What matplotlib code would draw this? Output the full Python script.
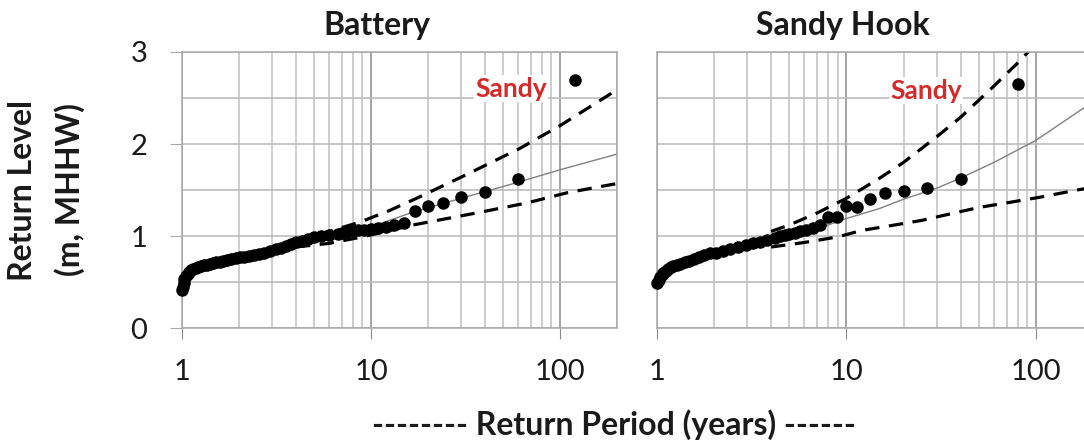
import matplotlib
matplotlib.use("Agg")
import matplotlib.pyplot as plt
from matplotlib.ticker import LogLocator, FuncFormatter, NullFormatter

plt.rcParams['font.family'] = ['Lato', 'DejaVu Sans']

# ---- Battery: observed return levels (m, MHHW) vs return period (years)
bat_period = [1.00, 1.01, 1.02, 1.03, 1.05, 1.07, 1.09, 1.12, 1.15, 1.18,
              1.22, 1.26, 1.30, 1.35, 1.40, 1.46, 1.52, 1.58, 1.65, 1.74,
              1.82, 1.92, 2.03, 2.14, 2.26, 2.40, 2.55, 2.73, 2.93, 3.16,
              3.33, 3.53, 3.75, 4.00, 4.29, 4.62, 5.00, 5.45, 6.00, 6.67,
              7.06, 7.50, 8.00, 8.57, 9.23, 10.0, 10.9,
              12.0, 13.3, 15.0, 17.1, 20.0, 24.0, 30.0, 40.0, 60.0, 120.0]
bat_level = [0.41, 0.45, 0.49, 0.53, 0.56, 0.59, 0.61, 0.63, 0.64, 0.65,
             0.66, 0.67, 0.68, 0.69, 0.70, 0.71, 0.72, 0.72, 0.73, 0.74,
             0.75, 0.76, 0.77, 0.77, 0.78, 0.79, 0.80, 0.82, 0.84, 0.86,
             0.87, 0.89, 0.91, 0.93, 0.95, 0.97, 0.99, 1.00, 1.01, 1.02,
             1.03, 1.04, 1.05, 1.06, 1.07, 1.08, 1.09,
             1.10, 1.12, 1.14, 1.27, 1.33, 1.36, 1.42, 1.48, 1.62, 2.70]

# Battery fitted curve and confidence bounds
bat_fit_T = [4, 6, 10, 16.7, 30, 59, 100, 200]
bat_fit = [0.95, 1.00, 1.10, 1.26, 1.41, 1.58, 1.72, 1.89]
bat_up_T = [4, 6, 8.7, 12.3, 17, 30, 61, 100, 180, 200]
bat_up = [0.95, 1.05, 1.15, 1.27, 1.40, 1.64, 1.95, 2.20, 2.53, 2.59]
bat_lo_T = [4, 6, 9, 16.7, 36, 67, 109, 166, 200]
bat_lo = [0.88, 0.92, 0.99, 1.12, 1.25, 1.36, 1.47, 1.54, 1.57]

# ---- Sandy Hook
sh_period = [1.00, 1.02, 1.04, 1.06, 1.08, 1.11, 1.14, 1.18, 1.22, 1.27,
             1.33, 1.40, 1.48, 1.57, 1.67, 1.78, 1.90, 2.05, 2.22, 2.42,
             2.67, 2.96, 3.20, 3.48, 3.81, 4.21, 4.44, 4.71, 5.00, 5.33,
             5.71, 6.15, 6.67, 7.27,
             8.00, 8.89, 10.0, 11.4, 13.3, 16.0, 20.0, 26.7, 40.0, 80.0]
sh_level = [0.49, 0.52, 0.55, 0.58, 0.60, 0.62, 0.64, 0.66, 0.67, 0.69,
            0.70, 0.72, 0.73, 0.75, 0.77, 0.79, 0.81, 0.82, 0.84, 0.86,
            0.88, 0.90, 0.92, 0.94, 0.96, 0.98, 1.00, 1.01, 1.02, 1.03,
            1.05, 1.07, 1.09, 1.12,
            1.21, 1.21, 1.33, 1.32, 1.40, 1.47, 1.49, 1.52, 1.62, 2.65]

sh_fit_T = [3, 5, 8, 10, 15, 20, 30, 40, 60, 100, 200]
sh_fit = [0.90, 1.02, 1.12, 1.19, 1.30, 1.40, 1.52, 1.63, 1.80, 2.04, 2.46]
sh_up_T = [4, 5, 7, 10, 15, 20, 30, 40, 60, 80, 100]
sh_up = [1.05, 1.12, 1.25, 1.41, 1.63, 1.80, 2.08, 2.29, 2.63, 2.88, 3.09]
sh_lo_T = [4, 6, 9, 12, 18, 25, 37, 50, 70, 104, 165, 200]
sh_lo = [0.88, 0.93, 0.99, 1.06, 1.12, 1.17, 1.25, 1.31, 1.36, 1.42, 1.50, 1.53]

W, H = 1084, 440
fig = plt.figure(figsize=(W / 100, H / 100), dpi=100)

def px_axes(left, right, top, bottom):
    return fig.add_axes([left / W, 1 - bottom / H, (right - left) / W, (bottom - top) / H])

def style_axes(ax, show_y):
    ax.set_xscale('log')
    ax.set_xlim(1, 200)
    ax.set_ylim(0, 3)
    ax.xaxis.set_major_locator(LogLocator(base=10))
    ax.xaxis.set_minor_locator(LogLocator(base=10, subs=range(2, 10)))
    ax.xaxis.set_major_formatter(FuncFormatter(lambda v, p: f'{v:g}'))
    ax.xaxis.set_minor_formatter(NullFormatter())
    ax.set_yticks([0, 1, 2, 3])
    ax.set_yticks([0.5, 1.5, 2.5], minor=True)
    ax.grid(axis='x', which='major', color='#8c8c8c', lw=1.1)
    ax.grid(axis='x', which='minor', color='#c0c0c0', lw=1.1)
    ax.grid(axis='y', which='both', color='#b8b8b8', lw=1.1)
    ax.set_axisbelow(True)
    for s in ax.spines.values():
        s.set_color('#a8a8a8')
        s.set_linewidth(1.1)
    ax.tick_params(axis='x', which='major', length=8, color='#8c8c8c',
                   pad=14, labelsize=21, labelcolor='#1a1a1a')
    ax.tick_params(which='minor', length=0)
    if show_y:
        ax.tick_params(axis='y', which='major', length=9, color='#a8a8a8',
                       pad=16, labelsize=21, labelcolor='#1a1a1a')
    else:
        ax.tick_params(axis='y', which='major', length=0, labelleft=False)

def draw(ax, T, lev, fT, f, uT, u, lT, l):
    ax.plot(fT, f, color='#808080', lw=1, zorder=2)
    ax.plot(uT, u, color='black', lw=2.3, dashes=(4.5, 3), zorder=2)
    ax.plot(lT, l, color='black', lw=2.3, dashes=(4.5, 3), zorder=2)
    ax.plot(T, lev, 'o', color='black', ms=8, zorder=3, clip_on=False)

ax1 = px_axes(182, 617, 52, 328)
style_axes(ax1, True)
draw(ax1, bat_period, bat_level, bat_fit_T, bat_fit, bat_up_T, bat_up, bat_lo_T, bat_lo)
ax1.text(55, 2.60, 'Sandy', color='#d42a2a', fontsize=19, fontweight='bold',
         ha='center', va='center', zorder=4,
         bbox=dict(facecolor='white', edgecolor='none', pad=1))

ax2 = px_axes(657, 1093, 52, 328)
style_axes(ax2, False)
draw(ax2, sh_period, sh_level, sh_fit_T, sh_fit, sh_up_T, sh_up, sh_lo_T, sh_lo)
ax2.text(26.3, 2.58, 'Sandy', color='#d42a2a', fontsize=19, fontweight='bold',
         ha='center', va='center', zorder=4,
         bbox=dict(facecolor='white', edgecolor='none', pad=1))

fig.text(377 / W, 1 - 35 / H, 'Battery', ha='center', va='baseline',
         fontsize=23, fontweight='bold', color='#1a1a1a')
fig.text(843 / W, 1 - 35 / H, 'Sandy Hook', ha='center', va='baseline',
         fontsize=23, fontweight='bold', color='#1a1a1a')

fig.text(23 / W, 1 - 190 / H, 'Return Level', rotation=90, ha='center',
         va='center', fontsize=23, fontweight='bold', color='#1a1a1a')
fig.text(70 / W, 1 - 190 / H, '(m, MHHW)', rotation=90, ha='center',
         va='center', fontsize=23, fontweight='bold', color='#1a1a1a')

fig.text(614 / W, 1 - 435 / H, '-------- Return Period (years) ------',
         ha='center', va='baseline', fontsize=23, fontweight='bold', color='#1a1a1a')

fig.savefig('out.png', dpi=100)
